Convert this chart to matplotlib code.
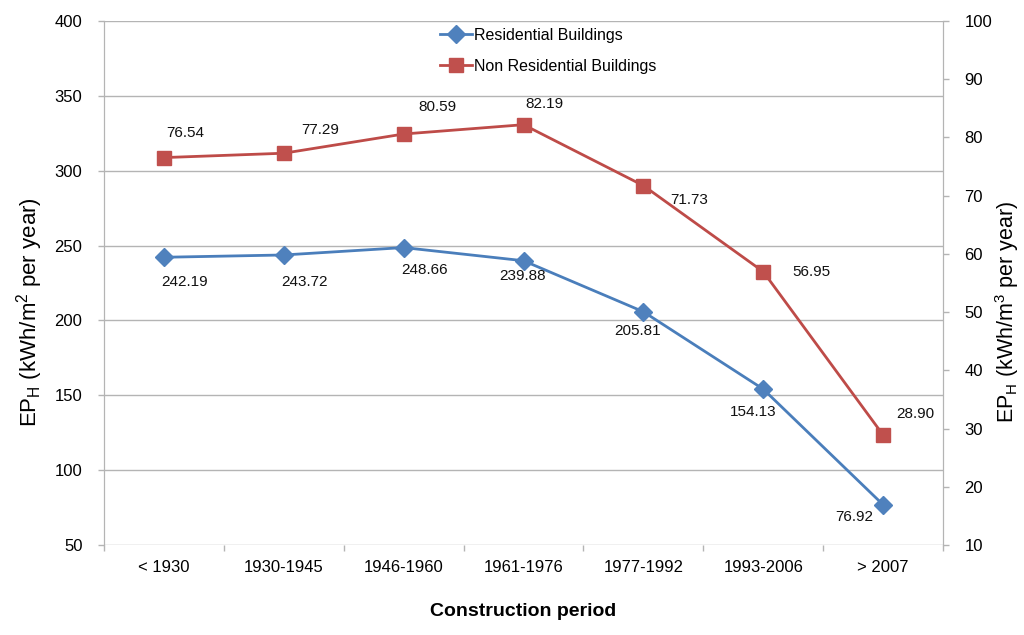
import matplotlib
matplotlib.use('Agg')
import matplotlib.pyplot as plt
from matplotlib.ticker import MultipleLocator, FixedLocator

plt.rcParams['font.family'] = ['Liberation Sans', 'DejaVu Sans']
plt.rcParams['mathtext.fontset'] = 'custom'
plt.rcParams['mathtext.rm'] = 'Liberation Sans'
plt.rcParams['mathtext.it'] = 'Liberation Sans:italic'

# data
periods = ['< 1930', '1930-1945', '1946-1960', '1961-1976', '1977-1992', '1993-2006', '> 2007']
residential = [242.19, 243.72, 248.66, 239.88, 205.81, 154.13, 76.92]
non_residential = [76.54, 77.29, 80.59, 82.19, 71.73, 56.95, 28.90]

# label offsets in pixels (text centre relative to marker)
res_offsets = [(21, -25), (21, -27), (21, -22), (-1, -15), (-6, -19), (-10, -23), (-29, -12)]
nonres_offsets = [(21, 25), (36, 23), (34, 27), (21, 21), (46, -14), (48, 0), (32, 21)]

blue = '#4A7EBB'
blue_m = '#4F81BD'
red = '#BE4B48'
red_m = '#C0504D'
grid_c = '#B4B4B4'

fig = plt.figure(figsize=(10.24, 6.35), dpi=100)
ax = fig.add_axes([104/1024, 1 - 545/635, (943-104)/1024, (545-21)/635])
ax2 = ax.twinx()

x = list(range(len(periods)))

l1, = ax.plot(x, residential, color=blue, lw=2, marker='D', ms=8.7,
              mfc=blue_m, mec=blue_m, label='Residential Buildings', zorder=3)
l2, = ax2.plot(x, non_residential, color=red, lw=2, marker='s', ms=10,
               mfc=red_m, mec=red_m, label='Non Residential Buildings', zorder=3)

for xi, v, off in zip(x, residential, res_offsets):
    ax.annotate('%.2f' % v, (xi, v), xytext=off, textcoords='offset pixels',
                ha='center', va='center', fontsize=11, color='#111111')
for xi, v, off in zip(x, non_residential, nonres_offsets):
    ax2.annotate('%.2f' % v, (xi, v), xytext=off, textcoords='offset pixels',
                 ha='center', va='center', fontsize=11, color='#111111')

ax.set_xlim(-0.5, len(periods) - 0.5)
ax.set_ylim(50, 400)
ax2.set_ylim(10, 100)
ax.yaxis.set_major_locator(MultipleLocator(50))
ax2.yaxis.set_major_locator(MultipleLocator(10))

ax.set_xticks(x)
ax.set_xticklabels(periods)
ax.xaxis.set_minor_locator(FixedLocator([i - 0.5 for i in range(len(periods) + 1)]))
ax.tick_params(axis='x', which='major', length=0, pad=11, labelsize=12)
ax.tick_params(axis='x', which='minor', length=4.5, color=grid_c, width=1)
ax.tick_params(axis='y', length=4.5, color=grid_c, width=1, pad=11, labelsize=12)
ax2.tick_params(axis='y', length=4.5, color=grid_c, width=1, pad=11, labelsize=12)

ax.grid(axis='y', color=grid_c, lw=1)
ax.set_axisbelow(True)

for a in (ax, ax2):
    a.spines['top'].set_visible(False)
    a.spines['bottom'].set_visible(False)
    a.spines['left'].set_color(grid_c)
    a.spines['right'].set_color(grid_c)

ax.set_xlabel('Construction period', fontsize=14, fontweight='bold', labelpad=20)
ax.set_ylabel(r'EP$_{\mathrm{H}}$ (kWh/m$^{2}$ per year)', fontsize=16)
ax2.set_ylabel(r'EP$_{\mathrm{H}}$ (kWh/m$^{3}$ per year)', fontsize=15.5)
ax.yaxis.set_label_coords((45 - 104) / 839, (545 - 312) / 524)
ax2.yaxis.set_label_coords((993 - 104) / 839, (545 - 312) / 524)

fig.legend(handles=[l1, l2], loc='upper left', bbox_to_anchor=(440/1024, 1 - 28/635),
           frameon=False, fontsize=11.5, borderpad=0, handlelength=2.0,
           handletextpad=0.15, labelspacing=1.0, borderaxespad=0)

fig.savefig('out.png', dpi=100)
